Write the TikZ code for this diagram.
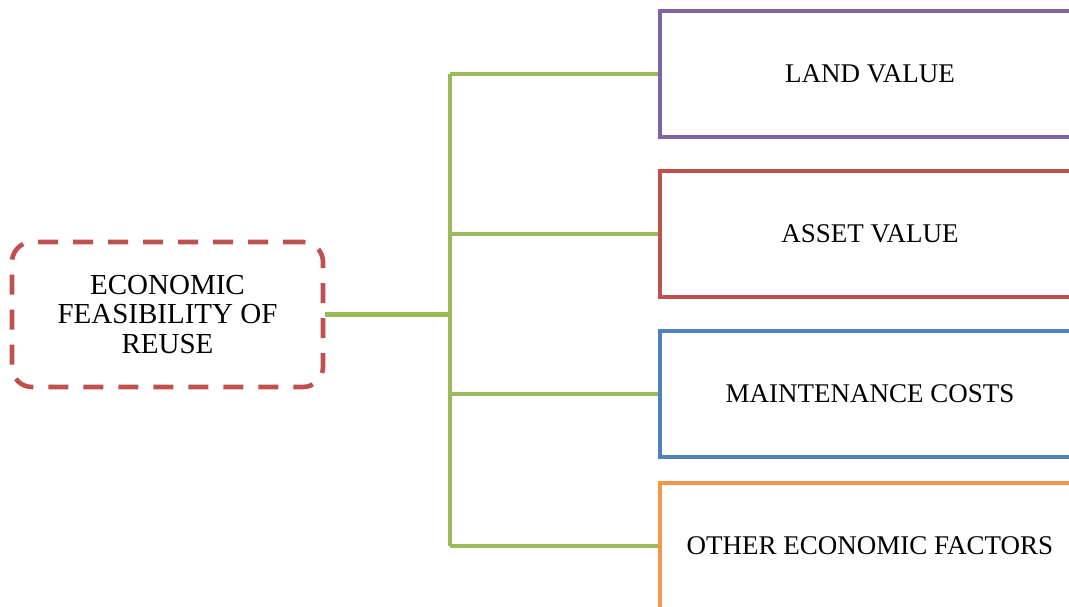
\documentclass[tikz,border=0pt]{standalone}
\usepackage{fontspec}
\setmainfont{Liberation Serif}
\definecolor{lineGreen}{HTML}{9BBB59}
\definecolor{rootRed}{HTML}{C0504D}
\definecolor{landPurple}{HTML}{8064A2}
\definecolor{assetRed}{HTML}{C0504D}
\definecolor{maintBlue}{HTML}{4F81BD}
\definecolor{otherOrange}{HTML}{F79646}
\begin{document}
\begin{tikzpicture}[x=1pt,y=-1pt,
  rootbox/.style={draw=rootRed, line width=4.6pt, dash pattern=on 20pt off 15pt,
    rounded corners=20pt, minimum width=311pt, minimum height=145pt,
    align=center, inner sep=0pt, font=\fontsize{29}{29.5}\selectfont},
  itembox/.style={draw=#1, line width=4.6pt, minimum width=420pt, minimum height=126pt,
    inner sep=0pt, font=\fontsize{27}{29.5}\selectfont},
  link/.style={draw=lineGreen, line width=4.6pt}]
  \useasboundingbox (0,0) rectangle (1069,607);
  \clip (0,0) rectangle (1069,607);

  % central topic
  \node[rootbox] (root) at (167.5,314.5) {ECONOMIC\\FEASIBILITY OF\\REUSE};

  % factor boxes
  \node[itembox=landPurple]  (land)  at (870,74)  {LAND VALUE};
  \node[itembox=assetRed]    (asset) at (870,234) {ASSET VALUE};
  \node[itembox=maintBlue]   (maint) at (870,394) {MAINTENANCE COSTS};
  \node[itembox=otherOrange] (other) at (870,546) {OTHER ECONOMIC FACTORS};

  % connector tree
  \coordinate (jn) at (450,314.5);
  \draw[link] (root.east) -- (jn);
  \draw[link] (land.west -| jn) -- (other.west -| jn);
  \draw[link] (land.west -| jn) -- (land.west);
  \draw[link] (asset.west -| jn) -- (asset.west);
  \draw[link] (maint.west -| jn) -- (maint.west);
  \draw[link] (other.west -| jn) -- (other.west);
\end{tikzpicture}
\end{document}
